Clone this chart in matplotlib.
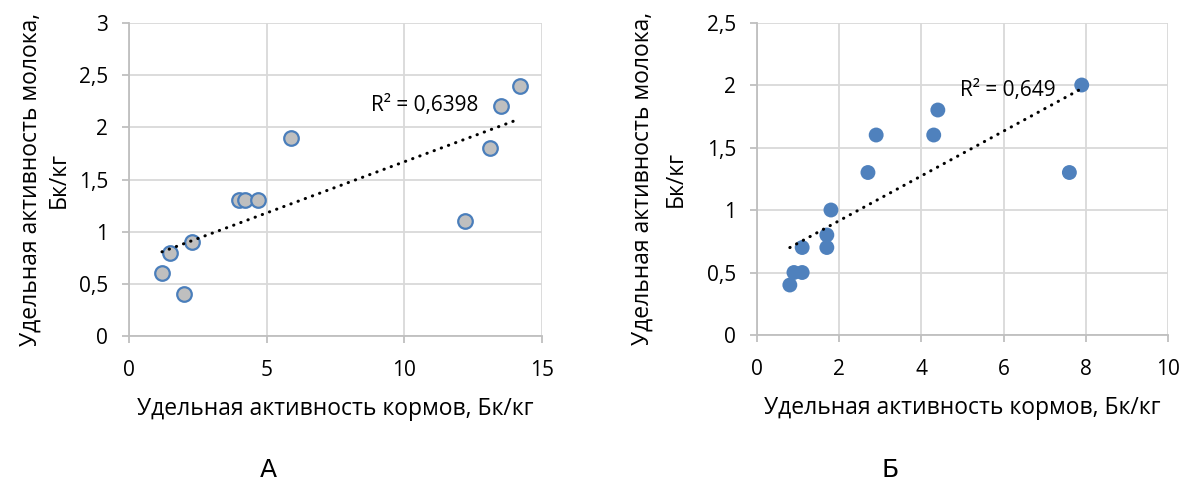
import numpy as np
import matplotlib
matplotlib.use("Agg")
import matplotlib.pyplot as plt

plt.rcParams['font.family'] = ['Open Sans', 'DejaVu Sans']

# panel A
feed_a = [14.2, 13.5, 5.9, 13.1, 4.0, 4.2, 4.7, 12.2, 2.3, 1.5, 1.2, 2.0]
milk_a = [2.4, 2.2, 1.9, 1.8, 1.3, 1.3, 1.3, 1.1, 0.9, 0.8, 0.6, 0.4]
r2_a = "R² = 0,6398"

# panel B
feed_b = [7.9, 4.4, 2.9, 4.3, 2.7, 7.6, 1.8, 1.7, 1.7, 1.1, 0.9, 1.1, 0.8]
milk_b = [2.0, 1.8, 1.6, 1.6, 1.3, 1.3, 1.0, 0.8, 0.7, 0.7, 0.5, 0.5, 0.4]
r2_b = "R² = 0,649"

xlabel = "Удельная активность кормов, Бк/кг"
ylabel = "Удельная активность молока,\nБк/кг"

grid_col = "#D9D9D9"
axis_col = "#BFBFBF"


def fmt(v, pos):
    return ("%g" % v).replace(".", ",")


def style_axes(ax, xmax, xstep, ymax, ystep, ypad, yspacing):
    ax.set_xlim(0, xmax)
    ax.set_ylim(0, ymax)
    ax.set_xticks(np.arange(0, xmax + 0.01, xstep))
    ax.set_yticks(np.arange(0, ymax + 0.01, ystep))
    ax.xaxis.set_major_formatter(plt.FuncFormatter(fmt))
    ax.yaxis.set_major_formatter(plt.FuncFormatter(fmt))
    ax.grid(True, color=grid_col, linewidth=1.3)
    ax.set_axisbelow(True)
    for s in ["top", "right"]:
        ax.spines[s].set_visible(False)
    for s in ["bottom", "left"]:
        ax.spines[s].set_color(axis_col)
        ax.spines[s].set_linewidth(1.3)
    ax.tick_params(direction="out", length=5, color=axis_col, width=1.3,
                   labelsize=15, labelcolor="black")
    ax.tick_params(axis="x", pad=12)
    ax.tick_params(axis="y", pad=10)
    ax.set_xlabel(xlabel, fontsize=16.5, labelpad=12)
    ax.set_ylabel(ylabel, fontsize=16.5, labelpad=ypad, linespacing=yspacing)


def trend(ax, x, y):
    x = np.array(x)
    y = np.array(y)
    k, b = np.polyfit(x, y, 1)
    xs = np.array([x.min(), x.max()])
    ax.plot(xs, k * xs + b, color="black", linewidth=2.2,
            linestyle=(0, (0.1, 2.4)), dash_capstyle="round", zorder=4)


fig = plt.figure(figsize=(11.82, 4.83), dpi=100)
ax1 = fig.add_axes([0.1091, 0.3043, 0.3494, 0.6481])
ax2 = fig.add_axes([0.6404, 0.3064, 0.3478, 0.6470])

style_axes(ax1, 15, 5, 3, 0.5, 6, 1.2)
ax1.scatter(feed_a, milk_a, s=110, facecolor="#BFBFBF", edgecolor="#4A7EBB",
            linewidth=1.6, zorder=3, clip_on=False)
trend(ax1, feed_a, milk_a)
ax1.text(8.8, 2.21, r2_a, fontsize=15, va="center", ha="left", zorder=5)

style_axes(ax2, 10, 2, 2.5, 0.5, 14, 1.5)
ax2.scatter(feed_b, milk_b, s=115, facecolor="#4F81BD", edgecolor="none",
            zorder=3, clip_on=False)
trend(ax2, feed_b, milk_b)
ax2.text(4.95, 1.96, r2_b, fontsize=15, va="center", ha="left", zorder=5)

fig.text(268 / 1182, 1 - 470 / 483, "А", fontsize=18, ha="center", va="center",
         family="DejaVu Sans")
fig.text(890 / 1182, 1 - 470 / 483, "Б", fontsize=18, ha="center", va="center",
         family="DejaVu Sans")

fig.savefig("out.png", dpi=100)
